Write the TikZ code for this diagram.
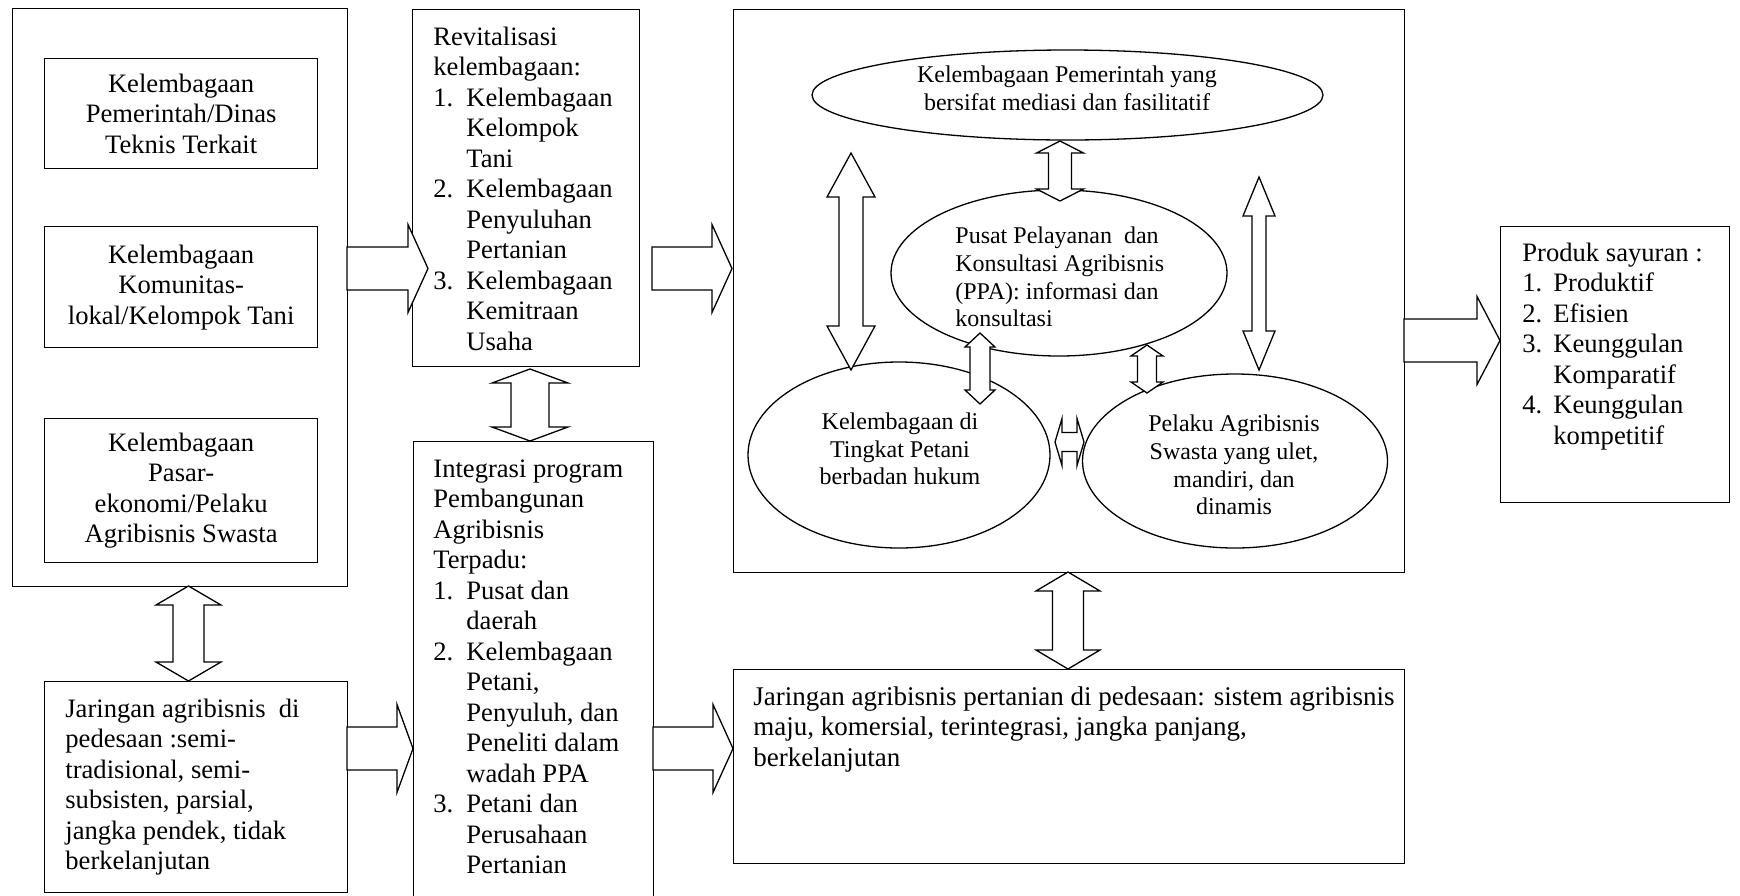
\documentclass[tikz,border=0pt]{standalone}
\usepackage{fontspec}
\setmainfont{Liberation Serif}
\usetikzlibrary{shapes.geometric}
\newcommand\bxfont{\fontsize{13.3}{15.25}\selectfont}
\newcommand\jxfont{\fontsize{13.5}{15.25}\selectfont}
\newcommand\elfont{\fontsize{12}{13.8}\selectfont}
\newcommand\numA[1]{\makebox[16.5pt][l]{#1}}
\newcommand\indA{\hspace*{16.5pt}}
\newcommand\numB[1]{\makebox[15.5pt][l]{#1}}
\newcommand\indB{\hspace*{15.5pt}}
\newcommand\toplines[1]{\begin{tabular}[t]{@{}l@{}}#1\end{tabular}}
% right block arrow: x0, head base x, tip x, yc, shaft half, head half
\newcommand\blkR[6]{\draw[blk] ({#1},{#4-#5}) -- ({#2},{#4-#5}) -- ({#2},{#4-#6}) -- ({#3},{#4}) -- ({#2},{#4+#6}) -- ({#2},{#4+#5}) -- ({#1},{#4+#5}) -- cycle;}
% vertical double block arrow: xc, ytop, ybot, shaft half, head half, head length
\newcommand\blkV[6]{\draw[blk] ({#1},{#2}) -- ({#1+#5},{#2+#6}) -- ({#1+#4},{#2+#6}) -- ({#1+#4},{#3-#6}) -- ({#1+#5},{#3-#6}) -- ({#1},{#3}) -- ({#1-#5},{#3-#6}) -- ({#1-#4},{#3-#6}) -- ({#1-#4},{#2+#6}) -- ({#1-#5},{#2+#6}) -- cycle;}
% horizontal double block arrow: yc, xleft, xright, shaft half, head half, head length
\newcommand\blkH[6]{\draw[blk] ({#2},{#1}) -- ({#2+#6},{#1-#5}) -- ({#2+#6},{#1-#4}) -- ({#3-#6},{#1-#4}) -- ({#3-#6},{#1-#5}) -- ({#3},{#1}) -- ({#3-#6},{#1+#5}) -- ({#3-#6},{#1+#4}) -- ({#2+#6},{#1+#4}) -- ({#2+#6},{#1+#5}) -- cycle;}
\tikzset{
  box/.style={draw, line width=0.65pt, inner sep=0pt, anchor=north west},
  txt/.style={inner sep=0pt, font=\bxfont, anchor=base west},
  ctxt/.style={inner sep=0pt, font=\bxfont, align=center},
  etxt/.style={inner sep=0pt, font=\elfont, align=center},
  blk/.style={draw, fill=white, line width=0.65pt, line join=miter},
  ell/.style={draw, ellipse, line width=0.65pt, inner sep=0pt},
}
\begin{document}
\begin{tikzpicture}[x=0.5pt, y=-0.5pt]
\useasboundingbox (0,0) rectangle (1740,895);
\clip (0,0) rectangle (1740,895);
\fill[white] (0,0) rectangle (1740,895);

% left column
\node[box, minimum width=167.5pt, minimum height=289pt] (outerL) at (12,8) {};
\node[box, minimum width=136.5pt, minimum height=55pt] (bA) at (44,58) {};
\node[box, minimum width=136.5pt, minimum height=60.5pt] (bB) at (44,226) {};
\node[box, minimum width=136.5pt, minimum height=72pt] (bC) at (44,418) {};
\node[ctxt] (tA) at (bA.center) {Kelembagaan\\Pemerintah/Dinas\\Teknis Terkait};
\node[ctxt] (tB) at (bB.center) {Kelembagaan\\Komunitas-\\lokal/Kelompok Tani};
\node[ctxt] (tC) at (bC.center) {Kelembagaan\\Pasar-\\ekonomi/Pelaku\\Agribisnis Swasta};

\node[box, minimum width=151.5pt, minimum height=105.5pt] (bD) at (44,681) {};
\node[txt] (tD) at (65,717) {\toplines{Jaringan agribisnis\ \ di\\pedesaan :semi-\\tradisional, semi-\\subsisten, parsial,\\jangka pendek, tidak\\berkelanjutan}};

% second column
\node[box, minimum width=113.5pt, minimum height=178.5pt] (rev) at (412,9) {};
\node[txt] (trev) at (433,45) {\toplines{Revitalisasi\\kelembagaan:\\\numA{1.}Kelembagaan\\\indA Kelompok\\\indA Tani\\\numA{2.}Kelembagaan\\\indA Penyuluhan\\\indA Pertanian\\\numA{3.}Kelembagaan\\\indA Kemitraan\\\indA Usaha}};

\node[box, minimum width=120pt, minimum height=240pt] (integ) at (413,441) {};
\node[txt] (tinteg) at (433,477) {\toplines{Integrasi program\\Pembangunan\\Agribisnis\\Terpadu:\\\numA{1.}Pusat dan\\\indA daerah\\\numA{2.}Kelembagaan\\\indA Petani,\\\indA Penyuluh, dan\\\indA Peneliti dalam\\\indA wadah PPA\\\numA{3.}Petani dan\\\indA Perusahaan\\\indA Pertanian}};

% centre
\node[box, minimum width=335.5pt, minimum height=281.5pt] (centre) at (733,9) {};
\node[ell, minimum width=255.5pt, minimum height=45pt] (gov) at (1067.5,95) {};
\node[ell, minimum width=168pt, minimum height=83pt] (ppa) at (1059,273) {};
\node[ell, minimum width=151pt, minimum height=93pt] (tani) at (899,455) {};
\node[ell, minimum width=152.5pt, minimum height=87pt] (swasta) at (1235,461) {};
\node[etxt] (tgov) at (1067,88) {Kelembagaan Pemerintah yang\\bersifat mediasi dan fasilitatif};
\node[etxt, align=left, anchor=west] (tppa) at (955,277) {Pusat Pelayanan\ \ dan\\Konsultasi Agribisnis\\(PPA): informasi dan\\konsultasi};
\node[etxt] (ttani) at (900,449) {Kelembagaan di\\Tingkat Petani\\berbadan hukum};
\node[etxt] (tswasta) at (1234,465) {Pelaku Agribisnis\\Swasta yang ulet,\\mandiri, dan\\dinamis};

\node[box, minimum width=335.5pt, minimum height=97pt] (jar) at (733,669) {};
\node[txt, font=\jxfont] (tjar) at (753,705) {\toplines{Jaringan agribisnis pertanian di pedesaan: sistem agribisnis\\maju, komersial, terintegrasi, jangka panjang,\\berkelanjutan}};

% right
\node[box, minimum width=114.5pt, minimum height=138pt] (prod) at (1500,226) {};
\node[txt] (tprod) at (1522,261) {\toplines{Produk sayuran :\\\numB{1.}Produktif\\\numB{2.}Efisien\\\numB{3.}Keunggulan\\\indB Komparatif\\\numB{4.}Keunggulan\\\indB kompetitif}};

% block arrows (right)
\blkR{347}{408}{428}{268.5}{21.5}{44}
\blkR{652}{712}{732}{268.5}{21.5}{44}
\blkR{347}{397}{413}{748.5}{21.5}{44}
\blkR{653}{713}{733}{748.5}{21.5}{44}
\blkR{1404}{1477}{1500}{340.5}{21.5}{44}

% vertical double arrows
\blkV{188.5}{586}{681}{15.5}{32.5}{19}
\blkV{530}{369}{441}{19}{38}{14}
\blkV{1068}{572}{669}{15.5}{32}{19}
\blkV{1060}{141}{201}{11.5}{23.5}{12}
\blkV{851}{153}{370}{12}{24}{44}
\blkV{1259}{177}{370}{7}{16}{39}
\blkV{980}{333}{404}{10}{15}{14}
\blkV{1147}{345}{393}{9.5}{16}{11}

% horizontal double arrow
\blkH{442}{1055}{1084}{9.5}{23.5}{7}
\end{tikzpicture}
\end{document}
